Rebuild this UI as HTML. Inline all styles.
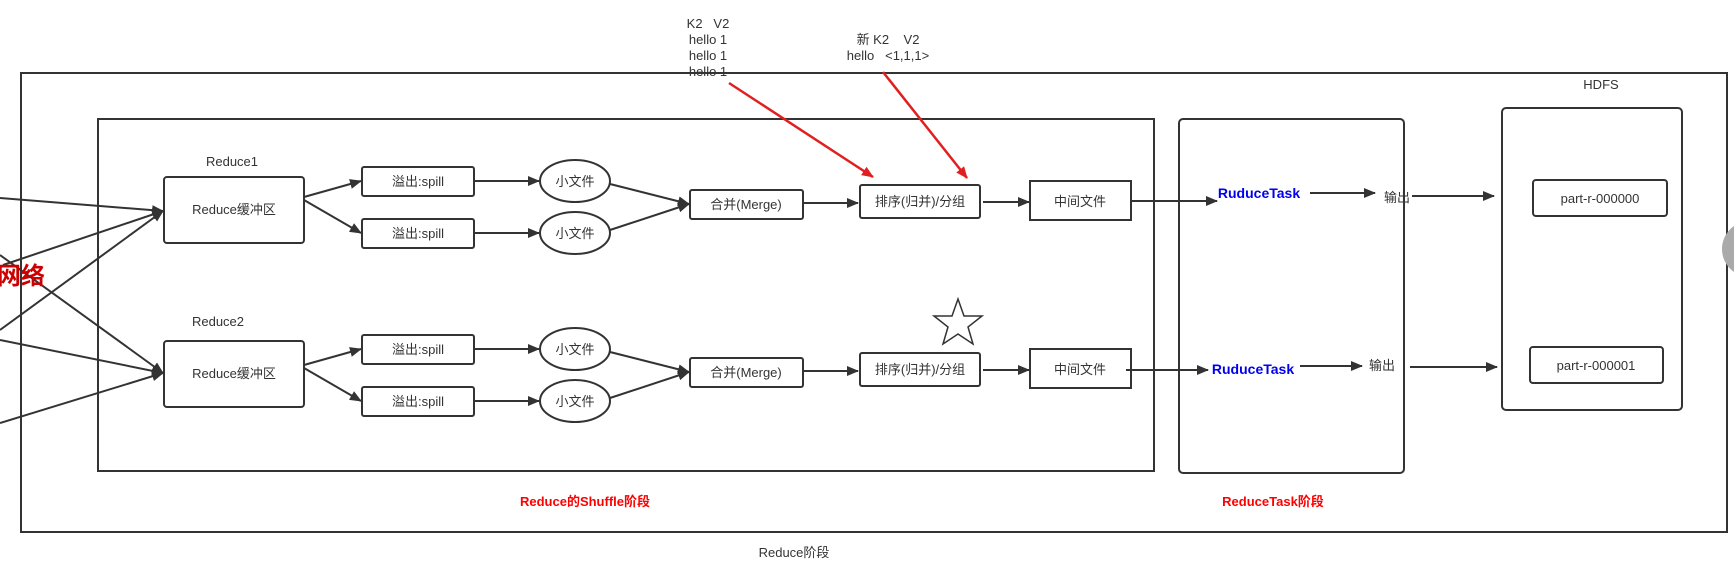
<!DOCTYPE html>
<html><head><meta charset="utf-8"><style>
body{margin:0;background:#fff}
svg text{font-family:"Liberation Sans","Noto Sans CJK SC",sans-serif;font-size:13px;fill:#333}
</style></head><body>
<svg width="1734" height="573" xmlns="http://www.w3.org/2000/svg">
<defs>
<marker id="a" markerWidth="12" markerHeight="10" refX="11" refY="5" orient="auto" markerUnits="userSpaceOnUse"><path d="M0,0L12,5L0,10z" fill="#333"/></marker>
<marker id="r" markerWidth="12" markerHeight="10" refX="11" refY="5" orient="auto" markerUnits="userSpaceOnUse"><path d="M0,0L12,5L0,10z" fill="#e02020"/></marker>
</defs>
<g fill="none" stroke="#333" stroke-width="2">
<rect x="21" y="73" width="1706" height="459"/>
<rect x="98" y="119" width="1056" height="352"/>
<rect x="1179" y="119" width="225" height="354" rx="4"/>
<rect x="1502" y="108" width="180" height="302" rx="4"/>
<rect x="164" y="177" width="140" height="66" rx="3"/>
<rect x="164" y="341" width="140" height="66" rx="3"/>
<rect x="362" y="167" width="112" height="29" rx="2"/>
<rect x="362" y="219" width="112" height="29" rx="2"/>
<rect x="362" y="335" width="112" height="29" rx="2"/>
<rect x="362" y="387" width="112" height="29" rx="2"/>
<ellipse cx="575" cy="181" rx="35" ry="21"/>
<ellipse cx="575" cy="233" rx="35" ry="21"/>
<ellipse cx="575" cy="349" rx="35" ry="21"/>
<ellipse cx="575" cy="401" rx="35" ry="21"/>
<rect x="690" y="190" width="113" height="29" rx="2"/>
<rect x="690" y="358" width="113" height="29" rx="2"/>
<rect x="860" y="185" width="120" height="33" rx="2"/>
<rect x="860" y="353" width="120" height="33" rx="2"/>
<rect x="1030" y="181" width="101" height="39"/>
<rect x="1030" y="349" width="101" height="39"/>
<rect x="1533" y="180" width="134" height="36" rx="3"/>
<rect x="1530" y="347" width="133" height="36" rx="3"/>
</g>
<circle cx="1750" cy="249" r="28" fill="#aaa"/>
<polygon points="958,299 964,316 982,316 968,327 973,344 958,334 943,344 948,327 934,316 952,316" fill="#fff" stroke="#333" stroke-width="1.5"/>
<g stroke="#333" stroke-width="2" marker-end="url(#a)">
<line x1="0" y1="198" x2="163" y2="211"/>
<line x1="3" y1="265" x2="163" y2="211"/>
<line x1="0" y1="330" x2="163" y2="211"/>
<line x1="0" y1="255" x2="163" y2="373"/>
<line x1="0" y1="340" x2="163" y2="373"/>
<line x1="0" y1="423" x2="163" y2="373"/>
<line x1="304" y1="197" x2="361" y2="181"/>
<line x1="304" y1="200" x2="361" y2="233"/>
<line x1="304" y1="365" x2="361" y2="349"/>
<line x1="304" y1="368" x2="361" y2="401"/>
<line x1="474" y1="181" x2="539" y2="181"/>
<line x1="474" y1="233" x2="539" y2="233"/>
<line x1="474" y1="349" x2="539" y2="349"/>
<line x1="474" y1="401" x2="539" y2="401"/>
<line x1="610" y1="184" x2="689" y2="204"/>
<line x1="610" y1="230" x2="689" y2="204"/>
<line x1="610" y1="352" x2="689" y2="372"/>
<line x1="610" y1="398" x2="689" y2="372"/>
<line x1="803" y1="203" x2="858" y2="203"/>
<line x1="803" y1="371" x2="858" y2="371"/>
<line x1="983" y1="202" x2="1029" y2="202"/>
<line x1="983" y1="370" x2="1029" y2="370"/>
<line x1="1131" y1="201" x2="1217" y2="201"/>
<line x1="1126" y1="370" x2="1208" y2="370"/>
<line x1="1310" y1="193" x2="1375" y2="193"/>
<line x1="1300" y1="366" x2="1362" y2="366"/>
<line x1="1412" y1="196" x2="1494" y2="196"/>
<line x1="1410" y1="367" x2="1497" y2="367"/>
</g>
<g stroke="#e02020" stroke-width="2.5" marker-end="url(#r)">
<line x1="729" y1="83" x2="873" y2="177"/>
<line x1="883" y1="72" x2="967" y2="178"/>
</g>
<g text-anchor="middle">
<text x="708" y="28">K2&#160;&#160;&#160;V2</text>
<text x="708" y="44">hello 1</text>
<text x="708" y="60">hello 1</text>
<text x="708" y="76">hello 1</text>
<text x="888" y="44">新 K2&#160;&#160;&#160;&#160;V2</text>
<text x="888" y="60">hello&#160;&#160;&#160;&lt;1,1,1&gt;</text>
<text x="1601" y="89">HDFS</text>
<text x="232" y="166">Reduce1</text>
<text x="218" y="326">Reduce2</text>
<text x="234" y="214">Reduce缓冲区</text>
<text x="234" y="378">Reduce缓冲区</text>
<text x="418" y="186">溢出:spill</text>
<text x="418" y="238">溢出:spill</text>
<text x="418" y="354">溢出:spill</text>
<text x="418" y="406">溢出:spill</text>
<text x="575" y="186">小文件</text>
<text x="575" y="238">小文件</text>
<text x="575" y="354">小文件</text>
<text x="575" y="406">小文件</text>
<text x="746" y="209">合并(Merge)</text>
<text x="746" y="377">合并(Merge)</text>
<text x="920" y="206">排序(归并)/分组</text>
<text x="920" y="374">排序(归并)/分组</text>
<text x="1080" y="206">中间文件</text>
<text x="1080" y="374">中间文件</text>
<text x="1600" y="203">part-r-000000</text>
<text x="1596" y="370">part-r-000001</text>
<text x="1259" y="198" style="fill:#0000ee;font-weight:bold;font-size:14px">RuduceTask</text>
<text x="1253" y="374" style="fill:#0000ee;font-weight:bold;font-size:14px">RuduceTask</text>
<text x="1397" y="202">输出</text>
<text x="1382" y="370">输出</text>
<text x="585" y="506" style="fill:#ff0000;font-weight:bold">Reduce的Shuffle阶段</text>
<text x="1273" y="506" style="fill:#ff0000;font-weight:bold">ReduceTask阶段</text>
<text x="794" y="557">Reduce阶段</text>
</g>
<text x="-3" y="284" style="fill:#cc0000;font-weight:bold;font-size:24px">网络</text>
</svg>
</body></html>
